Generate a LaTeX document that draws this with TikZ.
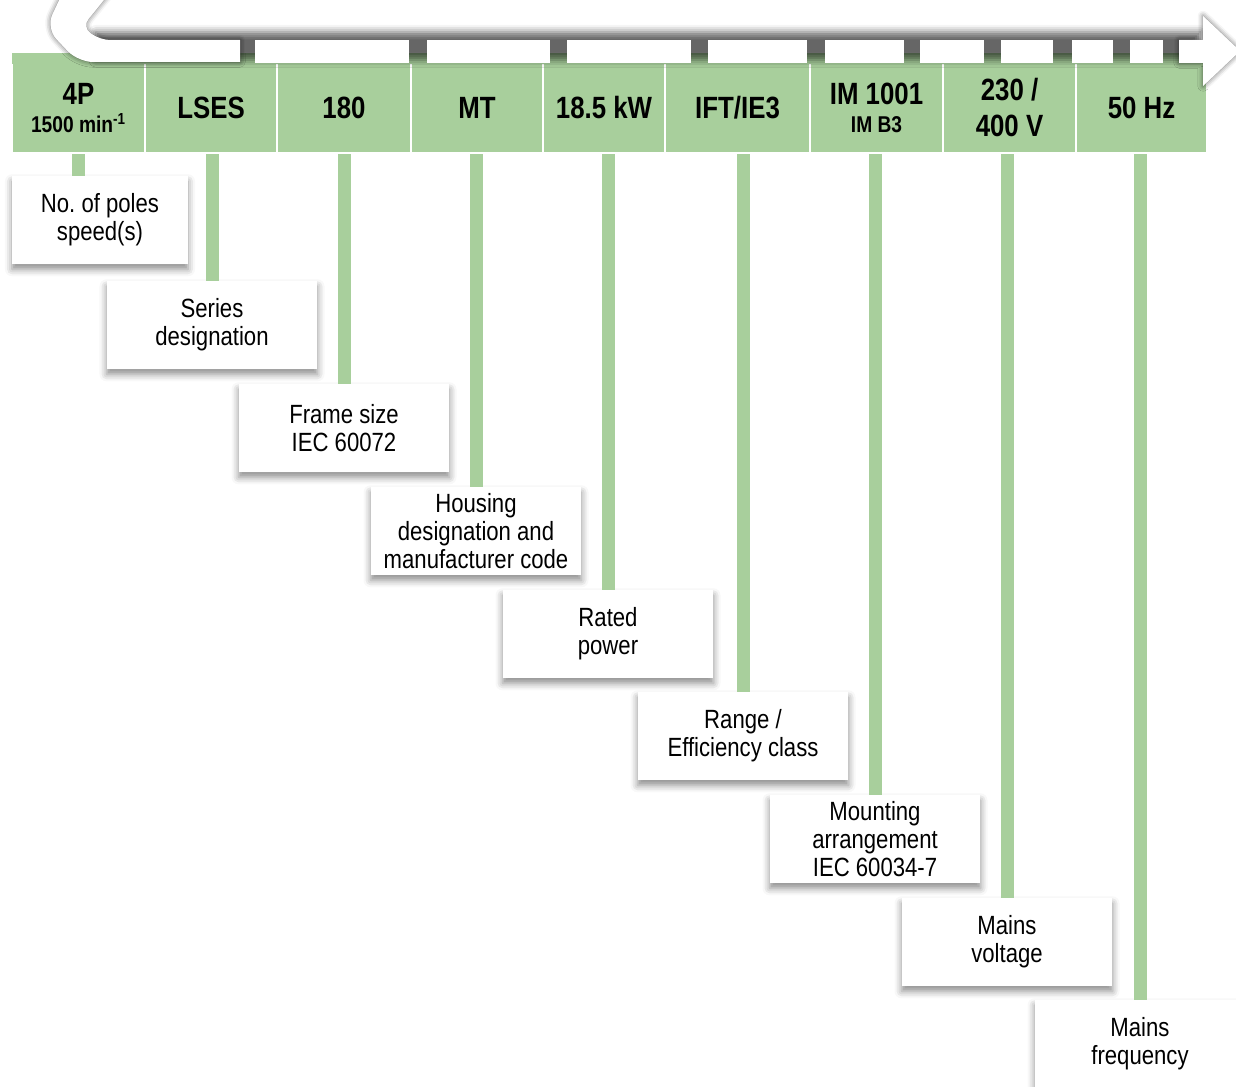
\documentclass[tikz,border=0pt]{standalone}
\usepackage{fontspec}
\setmainfont[FakeStretch=0.84]{Liberation Sans}
\usetikzlibrary{shadows.blur}
\definecolor{verdeplaca}{RGB}{168,207,156}

\begin{document}
\begin{tikzpicture}[x={(0.02cm,0cm)}, y={(0cm,0.02cm)},
    celda/.style={fill=verdeplaca, draw=white, line width=1.2pt, minimum height=1.8cm, inner sep=0pt, align=center, font=\fontsize{17.5}{20.5}\selectfont\bfseries},
    caja/.style={fill=white, minimum width=4.22cm, minimum height=1.76cm, inner sep=0pt, align=center, font=\fontsize{15}{16}\selectfont\frenchspacing,
        blur shadow={shadow xshift=0pt, shadow yshift=-3pt, shadow blur radius=4pt, shadow opacity=45}},
    tramo/.style={fill=white},
    sombra/.style={blur shadow={shadow xshift=0pt, shadow yshift=0pt, shadow blur radius=#1, shadow opacity=60}},
    enlace/.style={draw=verdeplaca, line width=0.26cm}]
    \useasboundingbox (0,0) rectangle (1236,-1087);

    % Celdas de la designación.
    \foreach \izq/\der/\nombre/\texto in {
        12/145/c1/{4P\\[-5pt]{\fontsize{13}{14}\selectfont 1500 min\textsuperscript{-1}}},
        145/277/c2/LSES, 277/411/c3/180, 411/543/c4/MT, 543/665/c5/18.5 kW,
        665/810/c6/{IFT/IE3},
        810/943/c7/{IM 1001\\[-5pt]{\fontsize{13}{14}\selectfont IM B3}},
        943/1076/c8/{230 /\\400 V}, 1076/1207/c9/50 Hz} {
        \node[celda, minimum width={(\der-\izq)*0.02cm}] (\nombre) at ({(\izq+\der)/2},-108) {\texto};
    }
    % Franja verde bajo la flecha.
    \fill[verdeplaca] (12,-53) rectangle (1207,-64.5);

    % Flecha blanca: sombra, cola curva, tramos y punta.
    \path[sombra=4pt] (96,-32) rectangle (1200,-60);
    \fill[tramo, sombra=3pt] (64,10) [rounded corners=0.3cm] -- (46,-28) -- (78,-62) [sharp corners] -- (240,-62) -- (240,-40)
        [rounded corners=0.2cm] -- (100,-40) -- (82,-27) [sharp corners] -- (112,10) -- cycle;
    \foreach \a/\b in {255/409, 427/550, 567/691, 708/807, 825/904, 920/984, 1001/1053, 1072/1113, 1130/1163} {
        \fill[tramo] (\a,-40) rectangle (\b,-63);
    }
    \fill[tramo, sombra=3pt] (1179,-40) -- (1203,-40) -- (1203,-16) -- (1240,-51) -- (1203,-86) -- (1203,-63) -- (1179,-63) -- cycle;

    % Cajas con la explicación de cada campo.
    \node[caja, minimum width=3.52cm] (b1) at (100,-220) {No. of poles\\speed(s)};
    \foreach \nombre/\cx/\cy/\texto in {
        b2/212/325/{Series\\designation},
        b3/344/428/{Frame size\\IEC 60072},
        b4/476/531/{Housing\\designation and\\manufacturer code},
        b5/608/634/{Rated\\power},
        b6/743/736/{Range /\\Efficiency class},
        b7/875/839/{Mounting\\arrangement\\IEC 60034-7},
        b8/1007/942/{Mains\\voltage},
        b9/1140/1044/{Mains\\frequency}} {
        \node[caja] (\nombre) at (\cx,-\cy) {\texto};
    }

    % Líneas verdes de celda a caja.
    \draw[enlace] (c1.south) -- (c1.south |- b1.north);
    \foreach \i in {2,...,9} {
        \draw[enlace] (b\i.north) -- (b\i.north |- c\i.south);
    }
\end{tikzpicture}
\end{document}
